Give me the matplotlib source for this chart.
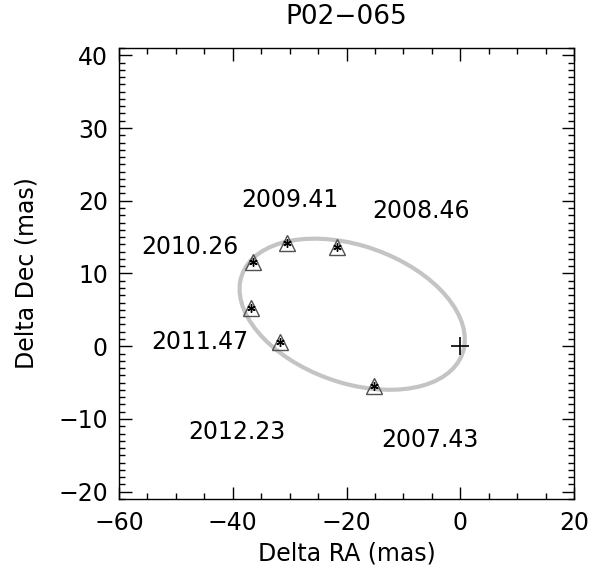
import numpy as np
import matplotlib.pyplot as plt
from matplotlib.patches import Ellipse
from matplotlib.ticker import MultipleLocator

# epochs and relative positions (mas)
epochs = ['2007.43', '2008.46', '2009.41', '2010.26', '2011.47', '2012.23']
dra = [-15.2, -21.7, -30.5, -36.4, -36.8, -31.7]
ddec = [-5.4, 13.7, 14.2, 11.6, 5.3, 0.6]
# where the epoch labels sit
lab_x = [-5.3, -6.9, -29.9, -47.5, -45.8, -39.3]
lab_y = [-12.9, 18.6, 20.1, 13.6, 0.6, -11.8]

# fitted parallax ellipse
ell_center = (-19.0, 4.4)
ell_a = 20.2
ell_b = 9.6
ell_angle = -12.9

plt.rcParams['font.family'] = ['DejaVu Sans']
fs = 17
fig = plt.figure(figsize=(5.91, 5.77), dpi=100)
ax = fig.add_axes([0.2014, 0.1352, 0.7698, 0.7816])

ax.add_patch(Ellipse(ell_center, 2 * ell_a, 2 * ell_b, angle=ell_angle,
                     fill=False, edgecolor='#c4c4c4', linewidth=3, zorder=2))

ax.plot(dra, ddec, linestyle='none', marker='^', markersize=11,
        markerfacecolor='none', markeredgecolor='#505050', markeredgewidth=1.0, zorder=3)
ax.plot(dra, ddec, linestyle='none', marker=(6, 2, 0), markersize=6,
        color='black', markeredgewidth=1.0, zorder=4)
ax.plot([0], [0], linestyle='none', marker='+', markersize=13,
        color='black', markeredgewidth=1.2, zorder=4)

for t, x, y in zip(epochs, lab_x, lab_y):
    ax.text(x, y, t, fontsize=fs, ha='center', va='center')

ax.set_xlim(-60, 20)
ax.set_ylim(-21, 41)
ax.xaxis.set_major_locator(MultipleLocator(20))
ax.xaxis.set_minor_locator(MultipleLocator(5))
ax.yaxis.set_major_locator(MultipleLocator(10))
ax.yaxis.set_minor_locator(MultipleLocator(1))
ax.tick_params(which='both', direction='in', top=True, right=True,
               labelsize=fs, width=1.0)
ax.tick_params(which='major', length=9)
ax.tick_params(axis='x', which='major', pad=9)
ax.tick_params(axis='y', which='major', pad=8)
ax.tick_params(which='minor', length=4.5)
for s in ax.spines.values():
    s.set_linewidth(1.0)

ax.set_xlabel('Delta RA (mas)', fontsize=fs, labelpad=4)
ax.set_ylabel('Delta Dec (mas)', fontsize=fs, labelpad=14)
ax.set_title('P02\u2212065', fontsize=19, pad=17)

fig.savefig('out.png', dpi=100)
